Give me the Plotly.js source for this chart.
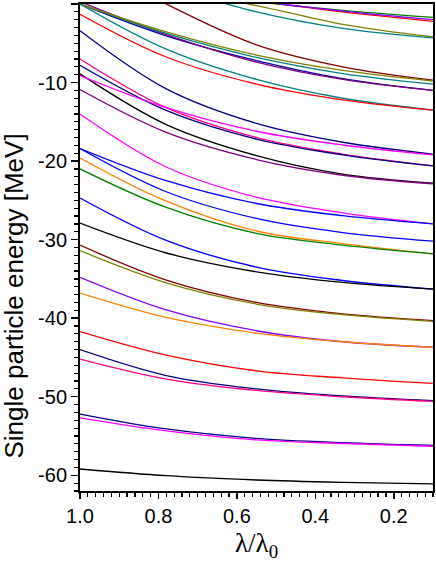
<!DOCTYPE html>
<html>
<head>
<meta charset="utf-8">
<script src="https://cdn.plot.ly/plotly-3.0.1.min.js"></script>
<style>
  html, body { margin: 0; padding: 0; background: #fff; }
  #chart { width: 436px; height: 564px; }
</style>
</head>
<body>
<div id="chart"></div>
<script>
const lambda = [1.0, 0.78, 0.55, 0.33, 0.1];

// single particle levels [MeV], top of the plot down
const green2    = [4.0, 2.0, 0.3, -0.8, -1.7];
const red2      = [4.0, 2.0, 0.4, -1.0, -2.2];
const purple3   = [4.2, 2.1, 0.4, -0.9, -2.0];
const olive3    = [4.5, 1.9, -0.2, -2.6, -4.2];
const teal3     = [6.0, 2.3, -1.0, -3.1, -4.3];
const wine1     = [6.0, 0.0, -5.2, -8.0, -9.7];
const olive1    = [0.0, -3.55, -6.5, -8.45, -9.8];
const teal2     = [0.0, -3.75, -6.8, -8.85, -10.2];
const navy1     = [0.0, -4.05, -7.2, -9.5, -11.0];
const purple2   = [0.3, -3.9, -7.4, -9.6, -11.0];
const teal1     = [0.0, -5.75, -9.6, -12.0, -13.5];
const red1      = [-1.3, -6.75, -10.2, -12.2, -13.5];
const navy2     = [-3.4, -10.8, -15.2, -17.6, -19.1];
const pink1     = [-7.0, -13.2, -17.0, -19.1, -20.6];
const navy3     = [-7.8, -13.55, -17.2, -19.2, -20.6];
const black1    = [-8.9, -15.35, -19.3, -21.65, -22.8];
const magenta1  = [-9.1, -13.2, -16.2, -17.95, -19.2];
const purple1   = [-10.9, -16.35, -19.8, -21.8, -22.9];
const magenta2  = [-14.0, -20.75, -24.6, -26.6, -28.0];
const blue1     = [-18.4, -22.5, -25.4, -26.95, -28.0];
const blue2     = [-18.4, -23.9, -27.3, -29.1, -30.2];
const orange1   = [-19.6, -25.1, -28.9, -30.5, -31.8];
const green1    = [-21.0, -25.9, -29.2, -30.7, -31.8];
const blue3     = [-24.7, -30.1, -33.5, -35.2, -36.3];
const black2    = [-27.9, -31.7, -34.1, -35.45, -36.3];
const wine2     = [-30.7, -35.15, -38.0, -39.45, -40.3];
const olive2    = [-31.4, -35.5, -38.2, -39.55, -40.4];
const violet1   = [-34.8, -38.95, -41.6, -43.0, -43.7];
const orange2   = [-36.8, -39.9, -41.9, -43.0, -43.7];
const red3      = [-41.7, -44.7, -46.7, -47.6, -48.3];
const navy4     = [-44.0, -47.3, -49.0, -49.9, -50.5];
const pink2     = [-45.2, -47.75, -49.2, -50.0, -50.6];
const navy5     = [-52.2, -54.1, -55.3, -55.85, -56.2];
const magenta3  = [-52.7, -54.35, -55.5, -55.95, -56.3];
const black3    = [-59.2, -60.05, -60.6, -60.9, -61.1];

// tick labels
const xTicks = [1.0, 0.8, 0.6, 0.4, 0.2];
const xTickText = ['1.0', '0.8', '0.6', '0.4', '0.2'];
const yTicks = [0, -10, -20, -30, -40, -50, -60];
const yTickText = ['0', '-10', '-20', '-30', '-40', '-50', '-60'];

const curves = [
  [green2, '#008000'], [red2, '#ff0000'], [purple3, '#8000ff'],
  [olive3, '#808000'], [teal3, '#008080'], [wine1, '#800000'],
  [navy1, '#0000a0'], [purple2, '#800080'], [teal2, '#008080'], [olive1, '#808000'],
  [teal1, '#008080'], [red1, '#ff0000'], [navy2, '#000080'],
  [pink1, '#ff0080'], [navy3, '#000080'], [black1, '#000000'],
  [magenta1, '#ff00ff'], [purple1, '#800080'], [magenta2, '#ff00ff'],
  [blue1, '#0000ff'], [blue2, '#0000ff'], [orange1, '#ff8000'],
  [green1, '#008000'], [blue3, '#0000ff'], [black2, '#000000'],
  [wine2, '#800000'], [olive2, '#808000'], [violet1, '#8000ff'],
  [orange2, '#ff8000'], [red3, '#ff0000'], [navy4, '#000080'],
  [pink2, '#ff0080'], [navy5, '#000080'], [magenta3, '#ff00ff'],
  [black3, '#000000']
];

const data = curves.map(([e, color]) => ({
  x: lambda,
  y: e,
  type: 'scatter',
  mode: 'lines',
  line: { color: color, width: 1.3, shape: 'spline', smoothing: 1 },
  hoverinfo: 'skip'
}));

const font = { family: 'Liberation Sans, Arial, sans-serif', size: 20, color: '#000' };

const layout = {
  width: 436,
  height: 564,
  margin: { l: 80, r: 3, t: 4, b: 73 },
  paper_bgcolor: '#fff',
  plot_bgcolor: '#fff',
  showlegend: false,
  font: font,
  xaxis: {
    range: [1.0, 0.1],
    tickmode: 'array',
    tickvals: xTicks,
    ticktext: xTickText,
    ticks: 'outside',
    ticklen: 6,
    tickwidth: 1.5,
    tickcolor: '#000',
    minor: { tickmode: 'linear', tick0: 0, dtick: 0.02, ticks: 'outside', ticklen: 4, tickwidth: 1.2, tickcolor: '#000' },
    showline: true,
    linewidth: 2,
    linecolor: '#000',
    mirror: true,
    showgrid: false,
    zeroline: false,
    tickfont: font
  },
  yaxis: {
    range: [-62, 0],
    tickmode: 'array',
    tickvals: yTicks,
    ticktext: yTickText,
    ticks: 'outside',
    ticklen: 7,
    tickwidth: 1.5,
    tickcolor: '#000',
    minor: { tickmode: 'linear', tick0: 0, dtick: 1, ticks: 'outside', ticklen: 4, tickwidth: 1.2, tickcolor: '#000' },
    showline: true,
    linewidth: 2,
    linecolor: '#000',
    mirror: true,
    showgrid: false,
    zeroline: false,
    tickfont: font
  },
  annotations: [
    {
      text: 'Single particle energy [MeV]',
      xref: 'paper', yref: 'paper',
      x: -0.186, y: 0.40,
      xanchor: 'center', yanchor: 'middle',
      textangle: -90,
      showarrow: false,
      font: { family: 'Liberation Sans, Arial, sans-serif', size: 26, color: '#000' }
    },
    {
      text: 'λ/λ<sub>0</sub>',
      xref: 'paper', yref: 'paper',
      x: 0.5, y: -0.111,
      xanchor: 'center', yanchor: 'middle',
      showarrow: false,
      font: { family: 'Liberation Serif, Times New Roman, serif', size: 27, color: '#000' }
    }
  ]
};

Plotly.newPlot('chart', data, layout, { displayModeBar: false, staticPlot: true });
</script>
</body>
</html>
